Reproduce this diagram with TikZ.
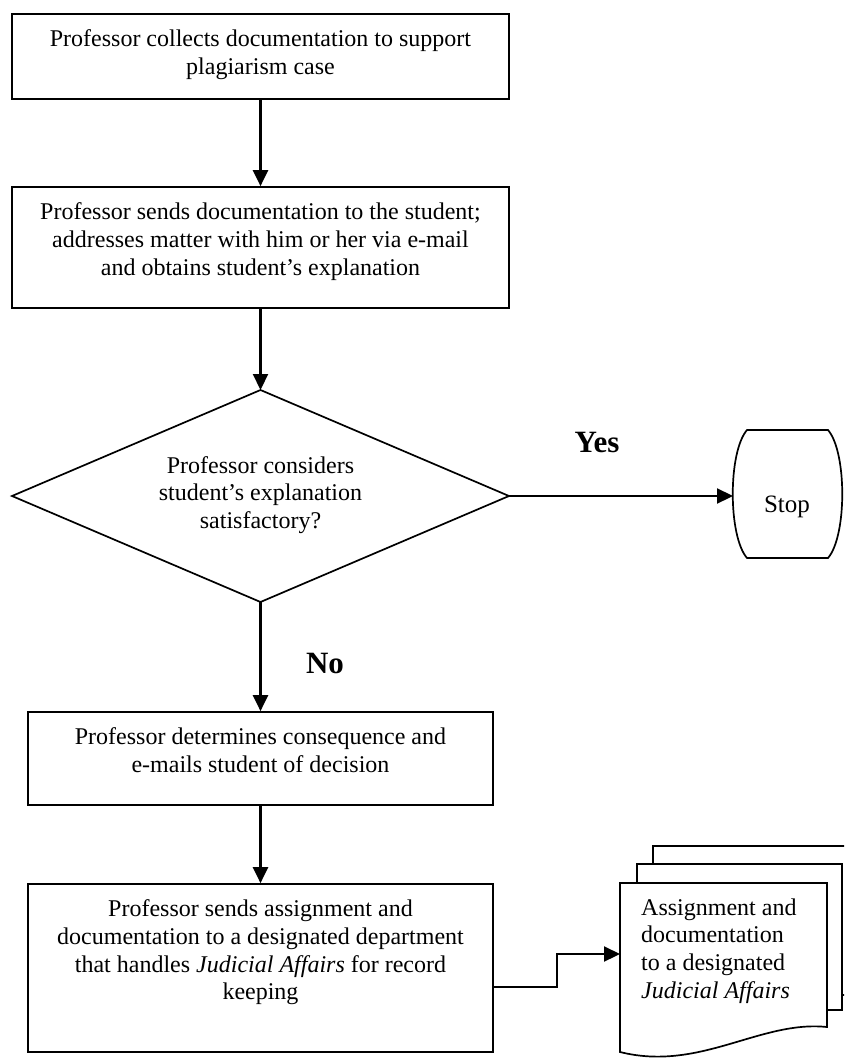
\documentclass[tikz,border=0pt]{standalone}
\usepackage{fontspec}
\setmainfont{Liberation Serif}
\usetikzlibrary{arrows.meta}
\newcommand{\boxtext}[3]{\parbox[c][#1][t]{#2}{\centering\vspace*{16pt}#3}}
\begin{document}
\begin{tikzpicture}[x=1pt,y=-1pt,
  box/.style={draw, line width=1.7pt, inner sep=0pt, font=\fontsize{24}{27.6}\selectfont},
  conn/.style={line width=2.2pt, -{Triangle[length=16pt,width=15pt]}},
  shapeline/.style={line width=1.7pt},
  lbl/.style={font=\fontsize{31}{35}\selectfont\bfseries, inner sep=0pt},
  txt/.style={font=\fontsize{24}{27.6}\selectfont, align=center, inner sep=0pt}]
\useasboundingbox (0,0) rectangle (844,1059);
\fill[white] (0,0) rectangle (844,1059);

% process boxes
\node[box] (b1) at (260.5,56.5) {\boxtext{85pt}{497pt}{Professor collects documentation to support\\plagiarism case}};
\node[box] (b2) at (260.5,247.5) {\boxtext{121pt}{497pt}{Professor sends documentation to the student;\\addresses matter with him or her via e-mail\\and obtains student’s explanation}};
\node[box] (b3) at (260.5,758.5) {\boxtext{93pt}{465pt}{Professor determines consequence and\\e-mails student of decision}};
\node[box] (b4) at (260.5,968) {\boxtext{168pt}{465pt}{Professor sends assignment and\\documentation to a designated department\\that handles \textit{Judicial Affairs} for record\\keeping}};

% decision
\coordinate (dtop) at (260.5,390);
\coordinate (dright) at (509,496);
\coordinate (dbot) at (260.5,602);
\coordinate (dleft) at (12,496);
\draw[shapeline] (dtop) -- (dright) -- (dbot) -- (dleft) -- cycle;
\node[txt] (dtext) at (260.5,495) {Professor considers\\student’s explanation\\satisfactory?};

% stop terminal
\draw[shapeline] (747,430) -- (828,430) .. controls (847,452) and (847,536) .. (828,558)
  -- (747,558) .. controls (728,536) and (728,452) .. (747,430) -- cycle;
\coordinate (stopw) at (733,496);
\node[txt, anchor=base, font=\fontsize{25}{28}\selectfont] (stop) at (787,512) {Stop};

% multi-document
\begin{scope}
\clip (0,0) rectangle (844,1059);
\draw[shapeline, fill=white] (653,846) rectangle (862,995);
\end{scope}
\draw[shapeline, fill=white] (637,864) rectangle (842,1010);
\draw[shapeline, fill=white] (620,883) -- (827,883) -- (827,1027)
  .. controls (760,1020) and (700,1072) .. (620,1052) -- cycle;
\node[txt, align=left, anchor=west] (doc) at (641,951) {Assignment and\\documentation\\to a designated\\\textit{Judicial Affairs}};
\coordinate (docw) at (620,954);

% labels
\node[lbl] (yes) at (597,442) {Yes};
\node[lbl] (no) at (325,663) {No};

% connectors
\draw[conn] (b1) -- (b2);
\draw[conn] (b2) -- (dtop);
\draw[conn] (dright) -- (stopw);
\draw[conn] (dbot) -- (b3);
\draw[conn] (b3) -- (b4);
\coordinate (c1) at (557,987);
\coordinate (c2) at (557,954);
\draw[conn] (b4.east |- c1) -- (c1) -- (c2) -- (docw);
\end{tikzpicture}
\end{document}
